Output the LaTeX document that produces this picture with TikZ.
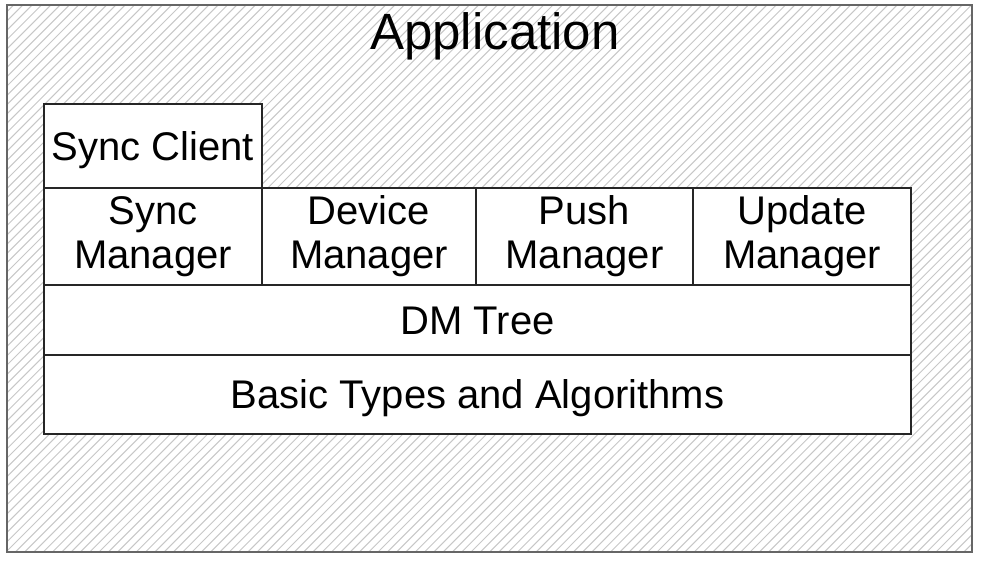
\documentclass[tikz,border=0pt]{standalone}
\usepackage{fontspec}
\setmainfont{Liberation Sans}
\begin{document}
\begin{tikzpicture}[x=1pt,y=-1pt,
  layerbox/.style={draw=black!85, line width=1.3pt, fill=white, inner sep=0pt,
    outer sep=0pt, anchor=north west, align=center,
    font=\fontsize{40}{44}\selectfont},
  oneline/.style={text height=28.6pt, text depth=0pt},
  hatchline/.style={draw=black!22, line width=1pt},
  frame/.style={draw=black!60, line width=1.5pt}]
\useasboundingbox (0,0) rectangle (981,560);
% hatched application area
\begin{scope}
  \clip (7,5) rectangle (972,552);
  \foreach \i in {0,...,170}
    \draw[hatchline] ({-560+\i*9.3},560) -- ++(560,-560);
\end{scope}
\draw[frame] (7,5) rectangle (972,552);
\node[font=\fontsize{51}{56}\selectfont] (app) at (495,36) {Application};
% component stack
\node[layerbox, oneline, minimum width=218pt, minimum height=84pt] (client) at (44,104) {Sync Client};
\node[layerbox, minimum width=218pt, minimum height=97pt] (sync) at (44,188) {Sync\\Manager};
\node[layerbox, minimum width=214pt, minimum height=97pt] (device) at (262,188) {Device\\Manager};
\node[layerbox, minimum width=217pt, minimum height=97pt] (push) at (476,188) {Push\\Manager};
\node[layerbox, minimum width=218pt, minimum height=97pt] (update) at (693,188) {Update\\Manager};
\node[layerbox, oneline, minimum width=867pt, minimum height=70pt] (tree) at (44,285) {DM Tree};
\node[layerbox, oneline, minimum width=867pt, minimum height=79pt] (basic) at (44,355) {Basic Types and Algorithms};
\end{tikzpicture}
\end{document}
